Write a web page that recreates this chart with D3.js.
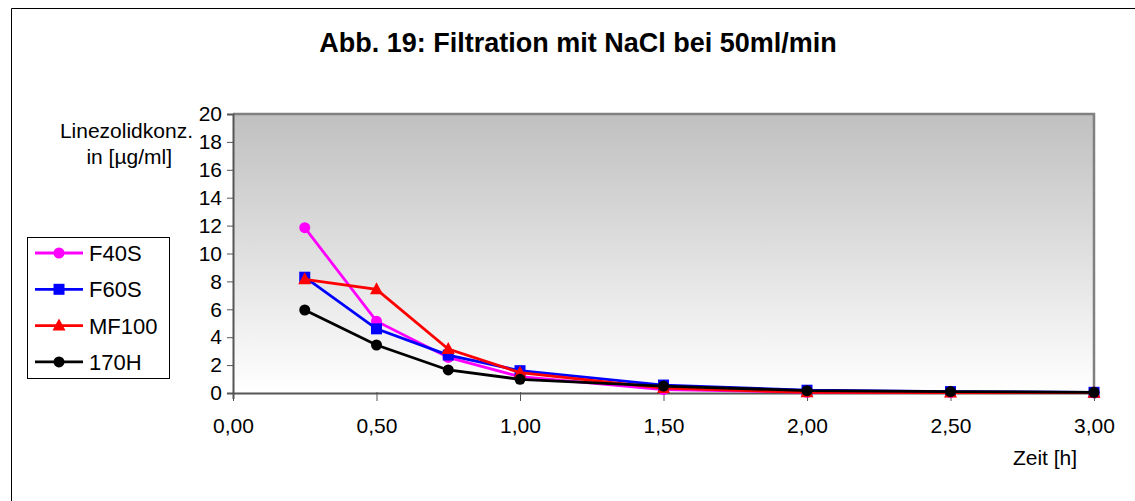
<!DOCTYPE html>
<html>
<head>
<meta charset="utf-8">
<script src="https://cdn.jsdelivr.net/npm/d3@7"></script>
<style>
  body { margin: 0; background: #fff; }
  svg { font-family: "Liberation Sans", Arial, sans-serif; }
</style>
</head>
<body>
<div id="chart"></div>
<script>
// data
const zeit = [0.25, 0.5, 0.75, 1.0, 1.5, 2.0, 2.5, 3.0];
const f40s  = [11.85, 5.15, 2.55, 1.17, 0.25, 0.05, 0.05, 0.02];
const f60s  = [8.3, 4.6, 2.72, 1.6, 0.57, 0.2, 0.1, 0.05];
const mf100 = [8.15, 7.43, 3.15, 1.46, 0.35, 0.05, 0.03, 0.02];
const h170  = [5.95, 3.44, 1.65, 0.98, 0.5, 0.17, 0.1, 0.05];
const seriesNames = ["F40S", "F60S", "MF100", "170H"];
const xTicks = [0, 0.5, 1, 1.5, 2, 2.5, 3];
const yTicks = [0, 2, 4, 6, 8, 10, 12, 14, 16, 18, 20];

const w = 1135, h = 501;
const pLeft = 233, pRight = 1094, pTop = 114, pBottom = 393;

const series = [
  {name: seriesNames[0], values: f40s, color: "#ff00ff", shape: "circle"},
  {name: seriesNames[1], values: f60s, color: "#0000ff", shape: "square"},
  {name: seriesNames[2], values: mf100, color: "#ff0000", shape: "triangle"},
  {name: seriesNames[3], values: h170, color: "#000000", shape: "circle"}
];

let svg = d3.select("#chart").append("svg")
  .attr("width", w)
  .attr("height", h);

// outer frame (runs off right and bottom)
svg.append("path")
  .attr("d", "M11.5," + (h + 5) + " V8.5 H" + (w + 5))
  .attr("fill", "none")
  .attr("stroke", "#000")
  .attr("stroke-width", 1);

let xScale = d3.scaleLinear().domain([0, 3]).range([pLeft, pRight]);
let yScale = d3.scaleLinear().domain([0, 20]).range([pBottom, pTop]);

// plot background gradient
const grad = svg.append("defs").append("linearGradient")
  .attr("id", "bg").attr("x1", 0).attr("y1", 0).attr("x2", 0).attr("y2", 1);
grad.append("stop").attr("offset", "0%").attr("stop-color", "#c0c0c0");
grad.append("stop").attr("offset", "100%").attr("stop-color", "#ffffff");

svg.append("rect")
  .attr("x", pLeft).attr("y", pTop)
  .attr("width", pRight - pLeft).attr("height", pBottom - pTop)
  .attr("fill", "url(#bg)");

// gray frame top and right
svg.append("path")
  .attr("d", "M" + pLeft + "," + pTop + " H" + pRight + " V" + pBottom)
  .attr("fill", "none")
  .attr("stroke", "#808080")
  .attr("stroke-width", 2.5);

// axes
let yAxis = d3.axisLeft(yScale).tickValues(yTicks).tickSize(6).tickPadding(5)
  .tickFormat(d3.format("d"));
let xAxis = d3.axisBottom(xScale).tickValues(xTicks).tickSize(6).tickPadding(19)
  .tickFormat(d => d.toFixed(2).replace(".", ","));

const gy = svg.append("g").attr("transform", "translate(" + pLeft + ",0)").call(yAxis);
const gx = svg.append("g").attr("transform", "translate(0," + pBottom + ")").call(xAxis);
[gx, gy].forEach(g => {
  g.select(".domain").attr("stroke", "#555").attr("stroke-width", 2);
  g.selectAll(".tick line").attr("stroke", "#555").attr("stroke-width", 1);
  g.selectAll("text").attr("font-size", "21px").attr("fill", "#000")
    .attr("font-family", "'Liberation Sans', Arial, sans-serif");
});
gx.selectAll(".tick line").attr("y1", -1).attr("y2", 8);

// lines + markers
const line = d3.line().x((d, i) => xScale(zeit[i])).y(d => yScale(d));

const drawMarker = (g, shape, x, y, color) => {
  if (shape === "circle") {
    g.append("circle").attr("cx", x).attr("cy", y).attr("r", 5.5).attr("fill", color);
  } else if (shape === "square") {
    g.append("rect").attr("x", x - 5.5).attr("y", y - 5.5).attr("width", 11).attr("height", 11).attr("fill", color);
  } else {
    g.append("path").attr("d", "M" + x + "," + (y - 7) + " L" + (x + 6.5) + "," + (y + 5) + " L" + (x - 6.5) + "," + (y + 5) + " Z")
      .attr("fill", color);
  }
};

series.forEach(s => {
  const g = svg.append("g");
  g.append("path").attr("d", line(s.values))
    .attr("fill", "none").attr("stroke", s.color).attr("stroke-width", 2.8);
  s.values.forEach((v, i) => drawMarker(g, s.shape, xScale(zeit[i]), yScale(v), s.color));
});

// title
svg.append("text")
  .attr("x", 578).attr("y", 52)
  .attr("text-anchor", "middle")
  .attr("font-size", "27px").attr("font-weight", "bold")
  .text("Abb. 19: Filtration mit NaCl bei 50ml/min");

// y axis title
svg.append("text").attr("x", 193).attr("y", 138).attr("text-anchor", "end")
  .attr("font-size", "21px").text("Linezolidkonz.");
svg.append("text").attr("x", 172).attr("y", 164).attr("text-anchor", "end")
  .attr("font-size", "21px").text("in [µg/ml]");

// x axis title
svg.append("text").attr("x", 1045).attr("y", 465).attr("text-anchor", "middle")
  .attr("font-size", "21px").text("Zeit [h]");

// legend
const lg = svg.append("g");
lg.append("rect").attr("x", 27.5).attr("y", 237.5).attr("width", 142).attr("height", 141)
  .attr("fill", "#fff").attr("stroke", "#000").attr("stroke-width", 1);
series.forEach((s, i) => {
  const y = 253 + i * 36.3;
  lg.append("line").attr("x1", 35).attr("x2", 83).attr("y1", y).attr("y2", y)
    .attr("stroke", s.color).attr("stroke-width", 2.8);
  drawMarker(lg, s.shape, 59, y, s.color);
  lg.append("text").attr("x", 89).attr("y", y + 8).attr("font-size", "22px").text(s.name);
});
</script>
</body>
</html>
